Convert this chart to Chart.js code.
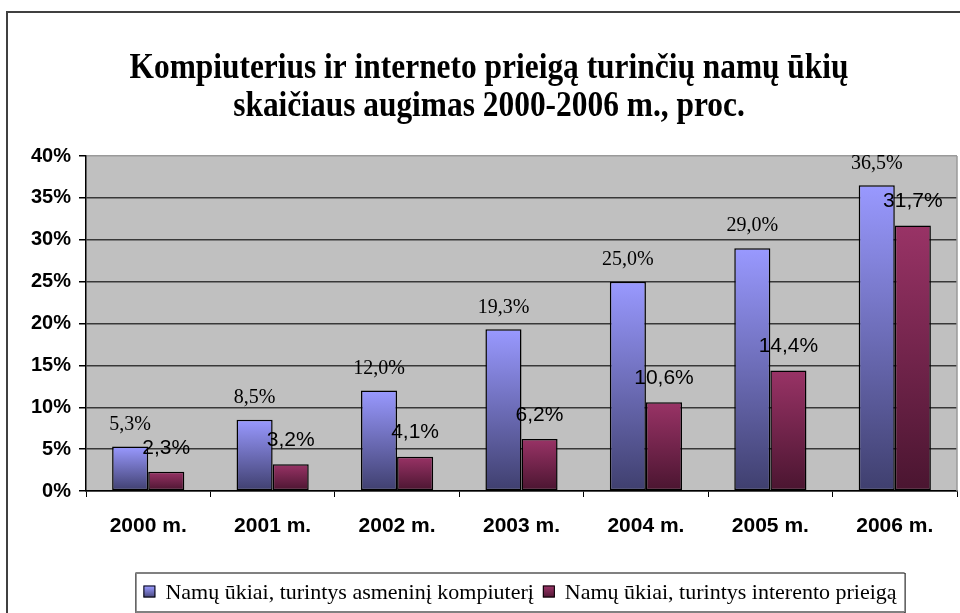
<!DOCTYPE html>
<html>
<head>
<meta charset="utf-8">
<script src="https://cdn.jsdelivr.net/npm/chart.js@4"></script>
<style>
  html, body { margin: 0; padding: 0; background: #fff; }
  #wrap { width: 960px; height: 613px; }
</style>
</head>
<body>
<div id="wrap"><canvas id="chart"></canvas></div>
<script>
const years = ['2000 m.', '2001 m.', '2002 m.', '2003 m.', '2004 m.', '2005 m.', '2006 m.'];
const pcValues = [5.3, 8.5, 12.0, 19.3, 25.0, 29.0, 36.5];
const netValues = [2.3, 3.2, 4.1, 6.2, 10.6, 14.4, 31.7];
const seriesNames = ['Namų ūkiai, turintys asmeninį kompiuterį', 'Namų ūkiai, turintys interento prieigą'];
const titleLines = ['Kompiuterius ir interneto prieigą turinčių namų ūkių', 'skaičiaus augimas 2000-2006 m., proc.'];

const blueStops = ['#9999ff', '#3f3f6e'];
const redStops = ['#993366', '#4a1530'];

function fmt(v) {
    return v.toFixed(1).replace('.', ',') + '%';
}

// vertical gradient for each bar, from its top down to the zero line
function barFill(stops) {
    return function (ctx) {
        if (ctx.type !== 'data') return stops[0];
        const chart = ctx.chart;
        const y = chart.scales.y;
        if (!y) return stops[0];
        const top = y.getPixelForValue(ctx.raw);
        const bottom = y.getPixelForValue(0);
        if (!isFinite(top) || !isFinite(bottom) || bottom - top < 1) return stops[0];
        const g = chart.ctx.createLinearGradient(0, top, 0, bottom);
        g.addColorStop(0, stops[0]);
        g.addColorStop(1, stops[1]);
        return g;
    };
}

const framePlugin = {
    id: 'frame',
    beforeDraw(chart) {
        const c = chart.ctx;
        const a = chart.chartArea;
        c.save();
        c.fillStyle = '#fff';
        c.fillRect(0, 0, chart.width, chart.height);
        c.strokeStyle = '#404040';
        c.lineWidth = 2;
        c.strokeRect(7, 12, chart.width + 20, chart.height + 20);
        c.fillStyle = '#c0c0c0';
        c.fillRect(a.left, a.top, a.right - a.left, a.bottom - a.top);
        c.restore();
    },
    afterDraw(chart) {
        const c = chart.ctx;
        const a = chart.chartArea;
        c.save();
        // right edge of the plot area
        c.strokeStyle = '#9a9a9a';
        c.lineWidth = 1.5;
        c.beginPath();
        c.moveTo(a.right, a.top);
        c.lineTo(a.right, a.bottom);
        c.stroke();

        // title, slightly condensed like the original
        c.fillStyle = '#000';
        c.font = 'bold 35px "Liberation Serif", "Times New Roman", serif';
        c.textAlign = 'center';
        c.textBaseline = 'alphabetic';
        const w = c.measureText(titleLines[0]).width;
        const sx = 719 / w;
        const cx = 489;
        [78, 116].forEach(function (by, i) {
            c.save();
            c.translate(cx, by);
            c.scale(sx, 1);
            c.fillText(titleLines[i], 0, 0);
            c.restore();
        });

        // legend with frame
        c.font = '22px "Liberation Serif", "Times New Roman", serif';
        c.textBaseline = 'middle';
        c.textAlign = 'left';
        const box = 12, gap = 10, itemGap = 9, padX = 8;
        const widths = seriesNames.map(function (n) { return c.measureText(n).width; });
        const total = padX * 2 + widths[0] + widths[1] + 2 * (box + gap) + itemGap;
        const lx = 520 - total / 2;
        const ly = 573, lh = 39;
        c.strokeStyle = '#000';
        c.lineWidth = 1;
        c.strokeRect(lx + 0.5, ly + 0.5, total, lh);
        c.strokeStyle = '#808080';
        c.lineWidth = 2;
        c.beginPath();
        c.moveTo(lx, ly); c.lineTo(lx + total, ly);
        c.moveTo(lx, ly + lh); c.lineTo(lx + total, ly + lh);
        c.stroke();
        let x = lx + padX;
        const my = ly + lh / 2;
        [blueStops, redStops].forEach(function (stops, i) {
            const g = c.createLinearGradient(0, my - box / 2, 0, my + box / 2);
            g.addColorStop(0, stops[0]);
            g.addColorStop(1, stops[1]);
            c.fillStyle = g;
            c.fillRect(x, my - box / 2 - 1, box, box);
            c.strokeStyle = '#000';
            c.lineWidth = 1;
            c.strokeRect(x + 0.5, my - box / 2 - 0.5, box - 1, box - 1);
            c.fillStyle = '#000';
            c.fillText(seriesNames[i], x + box + gap, my + 1);
            x += box + gap + widths[i] + itemGap;
        });
        c.restore();
    },
    afterDatasetsDraw(chart) {
        const c = chart.ctx;
        c.save();
        c.fillStyle = '#000';
        c.textAlign = 'center';
        c.textBaseline = 'middle';
        chart.data.datasets.forEach(function (ds, di) {
            const meta = chart.getDatasetMeta(di);
            c.font = di === 0 ? '20px "Liberation Serif", serif' : '21px "Liberation Sans", Arial, sans-serif';
            const off = di === 0 ? 22 : 24;
            meta.data.forEach(function (bar, i) {
                c.fillText(fmt(ds.data[i]), bar.x, bar.y - off);
            });
        });
        c.restore();
    }
};

new Chart(document.getElementById('chart').getContext('2d'), {
    type: 'bar',
    data: {
        labels: years,
        datasets: [
            {
                label: seriesNames[0],
                data: pcValues,
                backgroundColor: barFill(blueStops),
                borderColor: '#000',
                borderWidth: 1.5,
                borderSkipped: false
            },
            {
                label: seriesNames[1],
                data: netValues,
                backgroundColor: barFill(redStops),
                borderColor: '#000',
                borderWidth: 1.5,
                borderSkipped: false
            }
        ]
    },
    options: {
        responsive: true,
        maintainAspectRatio: false,
        animation: false,
        categoryPercentage: 0.58,
        barPercentage: 1,
        layout: {
            padding: { left: 0, right: 3, top: 156, bottom: 72 }
        },
        plugins: {
            legend: { display: false },
            title: { display: false },
            tooltip: { enabled: false }
        },
        scales: {
            x: {
                grid: {
                    offset: true,
                    drawOnChartArea: false,
                    drawTicks: true,
                    tickLength: 6,
                    color: '#000'
                },
                border: { color: '#000', width: 1.5 },
                ticks: {
                    color: '#000',
                    padding: 17,
                    font: { family: '"Liberation Sans", Arial, sans-serif', size: 21, weight: 'bold' }
                },
                afterFit(scale) { scale.height = 50; }
            },
            y: {
                min: 0,
                max: 40,
                grid: {
                    color: function (ctx) { return ctx.tick && ctx.tick.value === 40 ? '#9a9a9a' : '#383838'; },
                    lineWidth: 1.5,
                    tickLength: 7,
                    tickColor: '#000'
                },
                border: { color: '#000', width: 1.5 },
                ticks: {
                    stepSize: 5,
                    color: '#000',
                    padding: 8,
                    font: { family: '"Liberation Sans", Arial, sans-serif', size: 20, weight: 'bold' },
                    callback: function (v) { return v + '%'; }
                },
                afterFit(scale) { scale.width = 86; }
            }
        }
    },
    plugins: [framePlugin]
});
</script>
</body>
</html>
